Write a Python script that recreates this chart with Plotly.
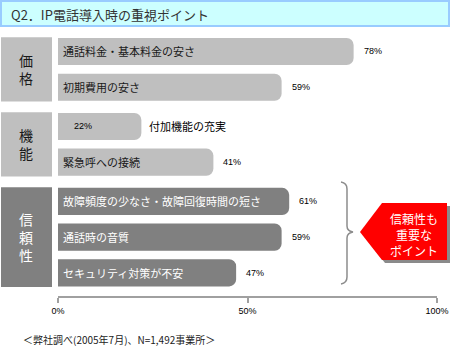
import plotly.graph_objects as go

# ---- data ----
groups = ["価格", "機能", "信頼性"]
categories = ["通話料金・基本料金の安さ", "初期費用の安さ",
              "付加機能の充実", "緊急呼への接続",
              "故障頻度の少なさ・故障回復時間の短さ", "通話時の音質", "セキュリティ対策が不安"]
cat_group = [0, 0, 1, 1, 2, 2, 2]
values = [78, 59, 22, 41, 61, 59, 47]
tick_vals = [0, 50, 100]
tick_text = ["0%", "50%", "100%"]
title = "Q2．IP電話導入時の重視ポイント"
note = "＜弊社調べ(2005年7月)、N=1,492事業所＞"
callout_lines = ["信頼性も", "重要な", "ポイント"]

# ---- layout helpers ----
W, H = 451, 346
FONT = "Noto Sans CJK JP"
def px(x): return x / W
def py(y): return 1 - y / H

GAP = 0.1
pos = [i + GAP * g for i, g in enumerate(cat_group)]
group_fill = ["#bfbfbf", "#bfbfbf", "#808080"]
group_text = ["#1a1a1a", "#1a1a1a", "#ffffff"]
bar_colors = [group_fill[g] for g in cat_group]

fig = go.Figure()
fig.add_trace(go.Bar(
    x=values, y=pos, orientation="h", width=0.76,
    marker=dict(color=bar_colors, line=dict(width=0)),
    hoverinfo="skip", showlegend=False))

shapes = []
annotations = []

# title box
shapes.append(dict(type="rect", xref="paper", yref="paper",
                   x0=px(1), x1=px(449), y0=py(26), y1=py(1),
                   fillcolor="#ccffff", line=dict(color="#99ccff", width=2), layer="below"))
annotations.append(dict(text=title, xref="paper", yref="paper", x=px(9), y=py(14),
                        xanchor="left", yanchor="middle", showarrow=False,
                        font=dict(family=FONT, size=13, color="#333333")))

# group boxes and labels
for gi, gname in enumerate(groups):
    gp = [p for p, g in zip(pos, cat_group) if g == gi]
    shapes.append(dict(type="rect", xref="paper", yref="y",
                       x0=px(1), x1=px(52), y0=min(gp) - 0.4, y1=max(gp) + 0.4,
                       fillcolor=group_fill[gi], line=dict(width=0), layer="below"))
    annotations.append(dict(text="<br>".join(list(gname)), xref="paper", yref="y",
                            x=px(26), y=sum(gp) / len(gp), xanchor="center", yanchor="middle",
                            showarrow=False, font=dict(family=FONT, size=14, color=group_text[gi])))

# bar labels
for c, v, p, g in zip(categories, values, pos, cat_group):
    tcol = group_text[g]
    if v < 30:
        annotations.append(dict(text=f"{v}%", x=0, y=p, xref="x", yref="y", xanchor="left",
                                xshift=14, showarrow=False,
                                font=dict(family="Liberation Sans", size=9, color="#000000")))
        annotations.append(dict(text=c, x=v, y=p, xref="x", yref="y", xanchor="left",
                                xshift=6, showarrow=False,
                                font=dict(family=FONT, size=11, color="#000000")))
    else:
        annotations.append(dict(text=c, x=0, y=p, xref="x", yref="y", xanchor="left",
                                xshift=3, showarrow=False,
                                font=dict(family=FONT, size=11, color=tcol)))
        annotations.append(dict(text=f"{v}%", x=v, y=p, xref="x", yref="y", xanchor="left",
                                xshift=8, showarrow=False,
                                font=dict(family="Liberation Sans", size=9, color="#000000")))

# brace
def P(x, y): return f"{px(x):.4f},{py(y):.4f}"
brace = (f"M {P(341,182)} Q {P(347,183)} {P(347,189)} L {P(347,226)} "
         f"Q {P(347,231)} {P(353,232)} Q {P(347,233)} {P(347,238)} L {P(347,277)} "
         f"Q {P(347,283)} {P(341,284)}")
shapes.append(dict(type="path", xref="paper", yref="paper", path=brace,
                   line=dict(color="#8c8c8c", width=1.5)))

# callout arrow with shadow
def poly(dx, dy):
    pts = [(360, 232), (382, 203), (447, 203), (447, 260), (382, 260)]
    return "M " + " L ".join(P(x + dx, y + dy) for x, y in pts) + " Z"
shapes.append(dict(type="path", xref="paper", yref="paper", path=poly(3, 3),
                   fillcolor="#8a8a8a", line=dict(width=0)))
shapes.append(dict(type="path", xref="paper", yref="paper", path=poly(0, 0),
                   fillcolor="#ff0000", line=dict(width=0)))
for k, line in enumerate(callout_lines):
    annotations.append(dict(text=line, xref="paper", yref="paper", x=px(414), y=py(218 + 16 * k),
                            xanchor="center", yanchor="middle", showarrow=False,
                            font=dict(family=FONT, size=12, color="#ffffff")))

# footnote
annotations.append(dict(text=note, xref="paper", yref="paper", x=px(21), y=py(339),
                        xanchor="left", yanchor="middle", showarrow=False,
                        font=dict(family=FONT, size=10, color="#222222")))

fig.update_layout(
    width=W, height=H, autosize=False, margin=dict(l=0, r=0, t=0, b=0, pad=0),
    paper_bgcolor="white", plot_bgcolor="white",
    barcornerradius=7,
    xaxis=dict(domain=[58 / W, 437 / W], range=[0, 100], tickvals=tick_vals, ticktext=tick_text,
               automargin=False,
               showgrid=False, zeroline=False, showline=True, linecolor="#a0a0a0", linewidth=2,
               ticks="outside", ticklen=5, tickwidth=2, tickcolor="#a0a0a0",
               tickfont=dict(family="Liberation Sans", size=9, color="#000000")),
    yaxis=dict(domain=[(H - 296) / H, (H - 30) / H], range=[6.849, -0.602], visible=False,
               automargin=False),
    shapes=shapes, annotations=annotations,
)
fig.write_html("out.html")
